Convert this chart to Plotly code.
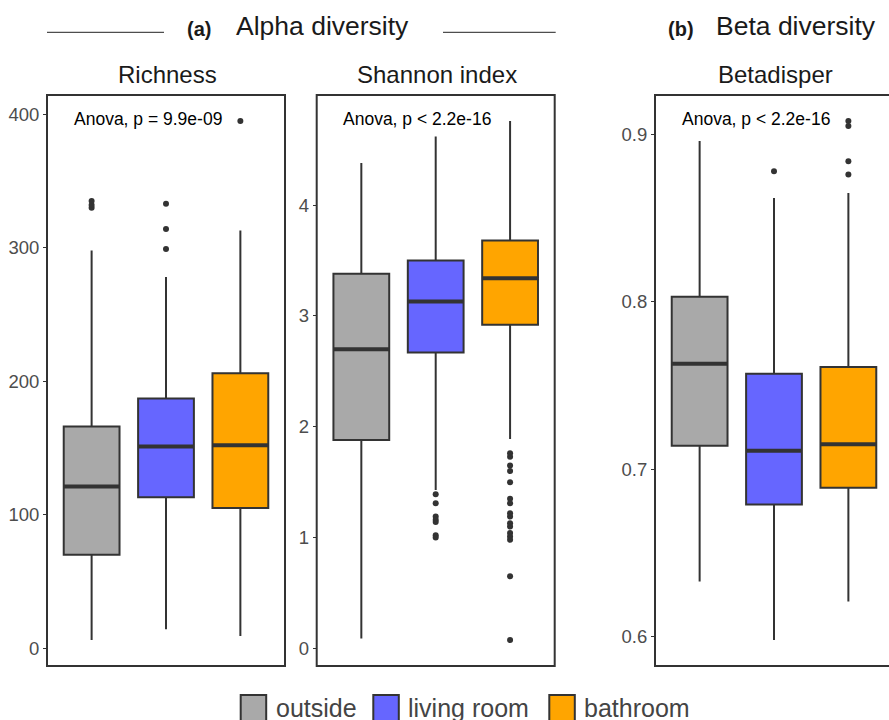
import plotly.graph_objects as go

W, H = 889, 720

groups = ["outside", "living room", "bathroom"]
colors = ["#A9A9A9", "#6666FF", "#FFA500"]

# Richness
rich_q1 = [70, 113, 105]
rich_med = [121, 151, 152]
rich_q3 = [166, 187, 206]
rich_lo = [6, 14, 9]
rich_hi = [298, 278, 313]
rich_out = [[330, 332, 335], [299, 314, 333], [395]]

# Shannon index
shan_q1 = [1.88, 2.67, 2.92]
shan_med = [2.70, 3.13, 3.34]
shan_q3 = [3.38, 3.50, 3.68]
shan_lo = [0.09, 1.43, 1.89]
shan_hi = [4.38, 4.62, 4.76]
shan_out = [[],
            [1.39, 1.31, 1.19, 1.16, 1.14, 1.02, 1.00],
            [1.76, 1.73, 1.65, 1.60, 1.50, 1.35, 1.31, 1.22, 1.19, 1.13,
             1.10, 1.04, 1.01, 0.98, 0.65, 0.075]]

# Betadisper
beta_q1 = [0.714, 0.679, 0.689]
beta_med = [0.763, 0.711, 0.715]
beta_q3 = [0.803, 0.757, 0.761]
beta_lo = [0.633, 0.598, 0.621]
beta_hi = [0.896, 0.862, 0.865]
beta_out = [[], [0.878], [0.876, 0.884, 0.905, 0.908]]

panel_titles = ["Richness", "Shannon index", "Betadisper"]
anova_labels = ["Anova, p = 9.9e-09", "Anova, p < 2.2e-16", "Anova, p < 2.2e-16"]
rich_ticks = [0, 100, 200, 300, 400]
shan_ticks = [0, 1, 2, 3, 4]
beta_ticks = [0.6, 0.7, 0.8, 0.9]

panels = [
    (rich_q1, rich_med, rich_q3, rich_lo, rich_hi, rich_out, rich_ticks),
    (shan_q1, shan_med, shan_q3, shan_lo, shan_hi, shan_out, shan_ticks),
    (beta_q1, beta_med, beta_q3, beta_lo, beta_hi, beta_out, beta_ticks),
]

# layout geometry (pixels)
frame_left = [47, 316.7, 655]
frame_w = 238
top_px, bot_px = 95, 666
px_per_unit = frame_w / 3.2


def fx(px):
    return px / W


def fy(py):
    return 1 - py / H


fig = go.Figure()
shapes = []
annotations = []
LINE = "#333333"
FONT = "Liberation Sans"

for k, (q1, med, q3, lo, hi, outs, ticks) in enumerate(panels):
    ax = "" if k == 0 else str(k + 1)
    xref, yref = "x" + ax, "y" + ax
    for i, g in enumerate(groups):
        fig.add_trace(go.Box(
            x=[i], q1=[q1[i]], median=[med[i]], q3=[q3[i]],
            lowerfence=[lo[i]], upperfence=[hi[i]],
            width=0.75, whiskerwidth=0, fillcolor=colors[i],
            line=dict(color=LINE, width=2), boxpoints=False,
            name=g, showlegend=False, hoverinfo="skip",
            xaxis=xref, yaxis=yref))
        fig.add_trace(go.Scatter(
            x=[i - 0.375, i + 0.375], y=[med[i], med[i]], mode="lines",
            line=dict(color=LINE, width=4), showlegend=False,
            hoverinfo="skip", xaxis=xref, yaxis=yref))
        if outs[i]:
            fig.add_trace(go.Scatter(
                x=[i] * len(outs[i]), y=outs[i], mode="markers",
                marker=dict(color=LINE, size=6), showlegend=False,
                hoverinfo="skip", xaxis=xref, yaxis=yref))
    allv = lo + hi + [v for o in outs for v in o]
    vmin, vmax = min(allv), max(allv)
    pad = 0.05 * (vmax - vmin)
    x0 = frame_left[k]
    x1 = x0 + frame_w
    vis_x1 = min(x1, W)
    xr = [-0.6, -0.6 + (vis_x1 - x0) / px_per_unit]
    fig.update_layout(**{
        "xaxis" + ax: dict(domain=[fx(x0), fx(vis_x1)], range=xr,
                           showticklabels=False, ticks="", showgrid=False,
                           zeroline=False, showline=False, fixedrange=True),
        "yaxis" + ax: dict(domain=[fy(bot_px), fy(top_px)],
                           range=[vmin - pad, vmax + pad], tickvals=ticks,
                           ticks="outside", ticklen=3, tickwidth=1,
                           tickcolor=LINE, showgrid=False, zeroline=False,
                           showline=False, anchor=xref,
                           tickfont=dict(family=FONT, size=18.5,
                                         color="#4D4D4D")),
    })
    shapes.append(dict(type="rect", xref="paper", yref="paper",
                       x0=fx(x0), x1=fx(x1), y0=fy(bot_px), y1=fy(top_px),
                       line=dict(color=LINE, width=2), layer="above"))
    annotations.append(dict(text=panel_titles[k], xref="paper", yref="paper",
                            x=fx((x0 + x1) / 2 + 1), y=fy(75), xanchor="center",
                            yanchor="middle", showarrow=False,
                            font=dict(family=FONT, size=24, color="#1A1A1A")))
    annotations.append(dict(text=anova_labels[k], xref="paper", yref="paper",
                            x=fx(x0 + 24.5), y=fy(119), xanchor="left",
                            yanchor="middle", showarrow=False,
                            font=dict(family=FONT, size=17.5, color="black")))

# section headers
headers = [("(a)", 198.5, "Alpha diversity", 322), ("(b)", 680.5, "Beta diversity", 796.4)]
for lab, lx, txt, tx in headers:
    annotations.append(dict(text="<b>" + lab + "</b>", xref="paper", yref="paper",
                            x=fx(lx), y=fy(29), xanchor="center", yanchor="middle",
                            showarrow=False,
                            font=dict(family=FONT, size=20, color="#1A1A1A")))
    annotations.append(dict(text=txt, xref="paper", yref="paper",
                            x=fx(tx), y=fy(26.5), xanchor="center", yanchor="middle",
                            showarrow=False,
                            font=dict(family=FONT, size=26.5, color="#1A1A1A")))
for a, b in [(47, 164), (443, 555.7)]:
    shapes.append(dict(type="line", xref="paper", yref="paper", x0=fx(a), x1=fx(b),
                       y0=fy(32.3), y1=fy(32.3), line=dict(color="#222222", width=1)))

# legend (drawn manually at the bottom)
key_x = [240.7, 373.3, 549.3]
for i, g in enumerate(groups):
    shapes.append(dict(type="rect", xref="paper", yref="paper",
                       x0=fx(key_x[i]), x1=fx(key_x[i] + 25.5),
                       y0=fy(721), y1=fy(695),
                       fillcolor=colors[i], line=dict(color=LINE, width=2)))
    annotations.append(dict(text=g, xref="paper", yref="paper",
                            x=fx(key_x[i] + 33), y=fy(707.5), xanchor="left",
                            yanchor="middle", showarrow=False,
                            font=dict(family=FONT, size=25, color="#444444")))

fig.update_layout(width=W, height=H, margin=dict(l=0, r=0, t=0, b=0),
                  paper_bgcolor="white", plot_bgcolor="white",
                  shapes=shapes, annotations=annotations, showlegend=False,
                  boxmode="overlay")

fig.write_html("out.html")
